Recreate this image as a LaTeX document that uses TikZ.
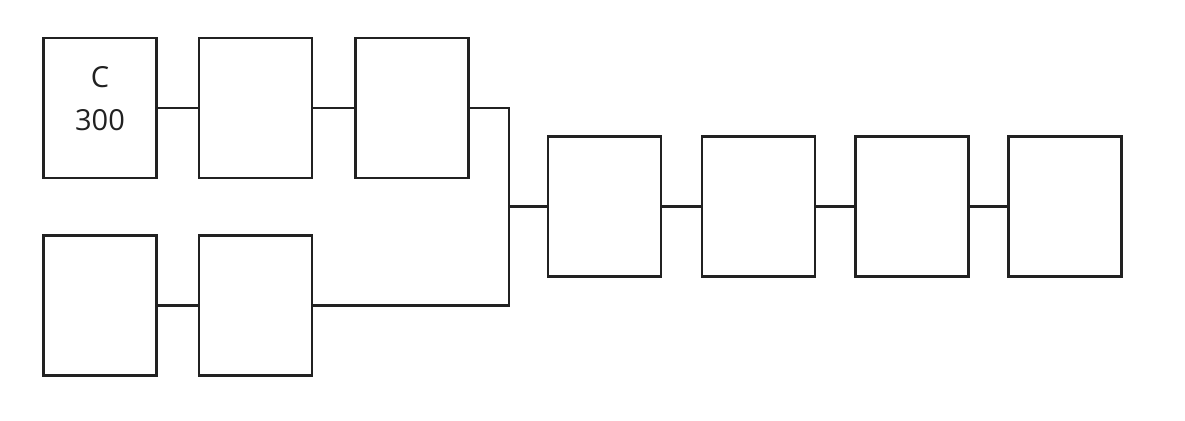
\documentclass[tikz,border=0pt]{standalone}
\usepackage{fontspec}
\setmainfont{Open Sans}
\begin{document}
\begin{tikzpicture}[x=1pt,y=-1pt,
  blk/.style={draw=black!87, line width=2.2pt, rectangle, minimum width=113pt, minimum height=140pt, inner sep=0pt, fill=white},
  wire/.style={draw=black!87, line width=2.2pt},
  lbl/.style={font=\fontsize{29}{43}\selectfont, align=center, text=black!87, inner sep=0pt}]
\useasboundingbox (0,0) rectangle (1185,420);
\node[blk] (b1) at (100,108) {};
\node[blk] (b2) at (255.5,108) {};
\node[blk] (b3) at (412,108) {};
\node[blk] (b4) at (100,305.5) {};
\node[blk] (b5) at (255.5,305.5) {};
\node[blk] (b6) at (604.5,206.5) {};
\node[blk] (b7) at (758.5,206.5) {};
\node[blk] (b8) at (912,206.5) {};
\node[blk] (b9) at (1065,206.5) {};
\node[lbl] (t1) at (100,98.5) {C\\300};
\coordinate (J) at (509,206.5);
\draw[wire] (b1.east) -- (b2.west);
\draw[wire] (b2.east) -- (b3.west);
\draw[wire] (b4.east) -- (b5.west);
\draw[wire] (b3.east) -| (J);
\draw[wire] (b5.east) -| (J);
\draw[wire] (J) -- (b6.west);
\draw[wire] (b6.east) -- (b7.west);
\draw[wire] (b7.east) -- (b8.west);
\draw[wire] (b8.east) -- (b9.west);
\end{tikzpicture}
\end{document}
